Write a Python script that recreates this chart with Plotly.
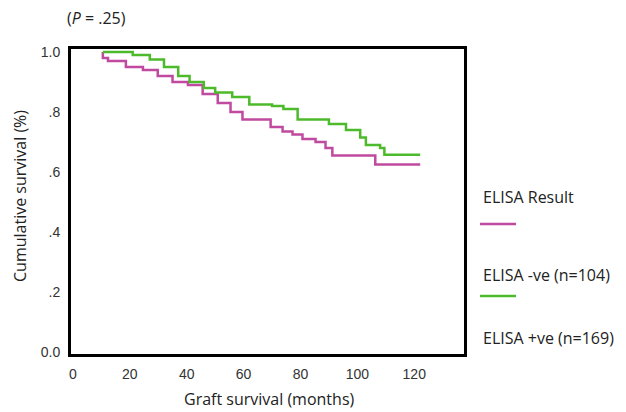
import plotly.graph_objects as go

# Kaplan-Meier step data (months, cumulative survival)
months_pos = [10.5, 10.5, 12.3, 18.6, 24.6, 29.8, 35.0, 40.4, 45.6, 50.9, 55.4, 59.6, 69.5, 73.7, 77.2, 80.7, 85.3, 88.8, 91.2, 106.3, 122.1]
surv_pos =   [1.00, 0.98, 0.97, 0.95, 0.94, 0.92, 0.90, 0.89, 0.86, 0.83, 0.80, 0.775, 0.75, 0.735, 0.725, 0.71, 0.70, 0.68, 0.655, 0.625, 0.625]

months_neg = [10.5, 21.0, 27.0, 32.0, 37.0, 41.0, 46.0, 50.0, 56.0, 62.0, 70.0, 74.0, 79.0, 90.0, 96.0, 101.0, 103.0, 108.0, 109.5, 122.1]
surv_neg =   [1.00, 0.99, 0.975, 0.95, 0.92, 0.90, 0.88, 0.865, 0.85, 0.825, 0.82, 0.81, 0.775, 0.76, 0.74, 0.715, 0.69, 0.68, 0.657, 0.657]

x_ticks = [0, 20, 40, 60, 80, 100, 120]
y_ticks = [0.0, 0.2, 0.4, 0.6, 0.8, 1.0]
y_tick_labels = ["0.0", ".2", ".4", ".6", ".8", "1.0"]

MAGENTA = "#C04AA0"
GREEN = "#4DBA2C"
TXT = "#222222"
TFONT = "Open Sans"
OFF = 8  # default page body margin

fig = go.Figure()
fig.add_trace(go.Scatter(x=months_pos, y=surv_pos, mode="lines", line=dict(color=MAGENTA, width=2.5, shape="hv"),
                         showlegend=False, hoverinfo="skip"))
fig.add_trace(go.Scatter(x=months_neg, y=surv_neg, mode="lines", line=dict(color=GREEN, width=2.5, shape="hv"),
                         showlegend=False, hoverinfo="skip"))

fig.update_layout(
    width=626 - OFF, height=412 - OFF,
    margin=dict(l=71 - OFF, r=162, t=49 - OFF, b=58),
    paper_bgcolor="white", plot_bgcolor="white",
    xaxis=dict(range=[-0.7, 137.5], tickvals=x_ticks, showgrid=False, zeroline=False, automargin=False,
               showline=True, linecolor="black", linewidth=3, mirror=True, ticks="", ticklabelstandoff=5,
               tickfont=dict(family="Liberation Sans", size=14, color="#333")),
    yaxis=dict(range=[-0.007, 1.01], tickvals=y_ticks, ticktext=y_tick_labels, showgrid=False, zeroline=False,
               automargin=False, showline=True, linecolor="black", linewidth=3, mirror=True, ticks="",
               ticklabelstandoff=5,
               tickfont=dict(family="Liberation Sans", size=14, color="#333")),
)

def px_x(px):
    return (px - 71) / 393.0

def px_y(py):
    return (354 - py) / 305.0

def label(text, x, y, xanchor="center", angle=0):
    fig.add_annotation(text=text, xref="paper", yref="paper", x=px_x(x), y=px_y(y), xanchor=xanchor,
                       yanchor="middle", showarrow=False, textangle=angle,
                       font=dict(family=TFONT, size=16, color=TXT))

label("Graft survival (months)", 269, 399)
label("Cumulative survival (%)", 20, 196, angle=-90)
label("(<i>P</i> = .25)", 96, 18)
for txt, py in [("ELISA Result", 197), ("ELISA -ve (n=104)", 275), ("ELISA +ve (n=169)", 338)]:
    label(txt, 481, py, xanchor="left")
for col, py in [(MAGENTA, 224), (GREEN, 296)]:
    fig.add_shape(type="line", xref="paper", yref="paper", x0=px_x(480), x1=px_x(516), y0=px_y(py), y1=px_y(py),
                  line=dict(color=col, width=2.5))

fig.write_html("out.html")
